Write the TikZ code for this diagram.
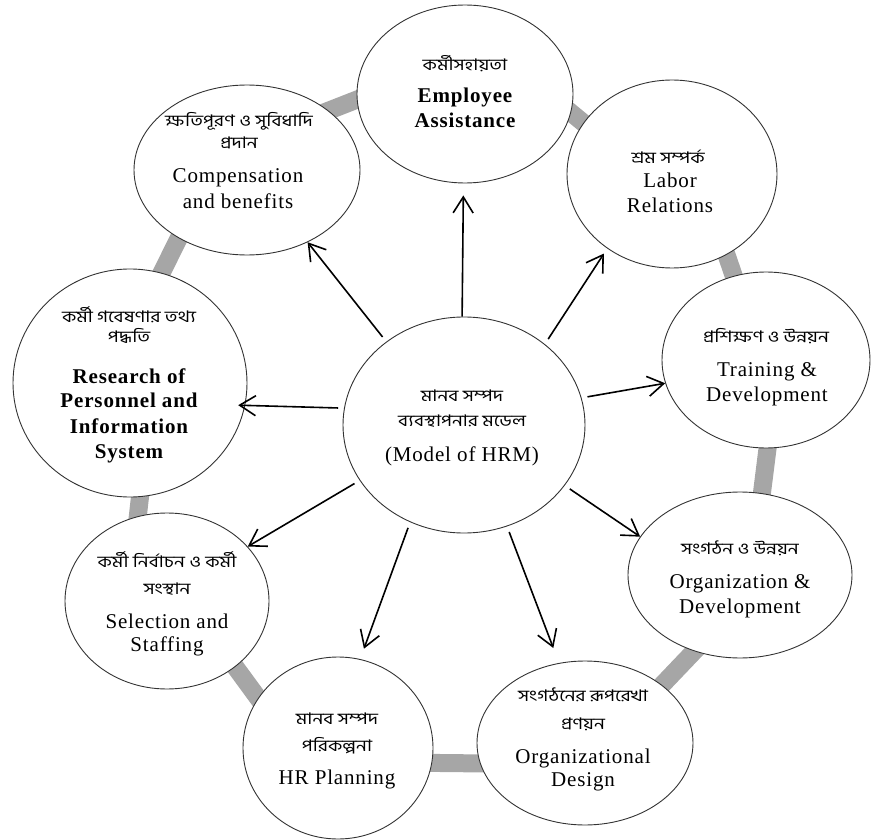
\documentclass[tikz,border=0pt]{standalone}
\usepackage{fontspec}
\setmainfont{Liberation Serif}[LetterSpace=4]
\newfontfamily\bnfont[Script=Bengali,FakeStretch=1.2]{Hind Siliguri}
\usetikzlibrary{shapes.geometric,arrows.meta,backgrounds}
\definecolor{linkgray}{RGB}{166,166,166}
\tikzset{
  ell/.style={ellipse, draw=black!80, line width=0.9pt, fill=white, inner sep=0pt},
  bn/.style={font=\bnfont\fontsize{16}{19}\selectfont, anchor=base, inner sep=0pt, yshift=-4pt},
  en/.style={font=\fontsize{21}{25}\selectfont, anchor=base, inner sep=0pt},
  enb/.style={font=\fontsize{21}{25}\selectfont\bfseries, anchor=base, inner sep=0pt},
  arr/.style={line width=1.6pt, -{Straight Barb[length=16pt,width=20pt]}, shorten <=6pt},
  link/.style={line width=18pt, draw=linkgray, shorten >=-8pt, shorten <=-8pt}
}
\begin{document}
\begin{tikzpicture}[x=1pt,y=-1pt]
\useasboundingbox (0,0) rectangle (871,840);
% ellipses
\node[ell, minimum width=216pt, minimum height=178pt] (emp) at (465,94) {};
\node[ell, minimum width=226pt, minimum height=170pt] (comp) at (247,170) {};
\node[ell, minimum width=210pt, minimum height=188pt] (labor) at (672,174) {};
\node[ell, minimum width=208pt, minimum height=176pt] (train) at (766,360) {};
\node[ell, minimum width=224pt, minimum height=166pt] (orgdev) at (740,575) {};
\node[ell, minimum width=216pt, minimum height=164pt] (orgdes) at (585,743) {};
\node[ell, minimum width=190pt, minimum height=182pt] (hr) at (338,748) {};
\node[ell, minimum width=204pt, minimum height=176pt] (sel) at (167,601) {};
\node[ell, minimum width=234pt, minimum height=228pt] (res) at (130,383) {};
\node[ell, minimum width=242pt, minimum height=216pt] (c) at (464,425) {};
% gray links
\begin{pgfonlayer}{background}
\draw[link] (comp.36) -- (emp.183);
\draw[link] (emp.-10) -- (labor.150);
\draw[link] (labor.-56) -- (train.111);
\draw[link] (train.-89) -- (orgdev.75);
\draw[link] (orgdev.-121) -- (orgdes.37);
\draw[link] (orgdes.191) -- (hr.-9);
\draw[link] (hr.148) -- (sel.-44);
\draw[link] (sel.109) -- (res.-85);
\draw[link] (res.74) -- (comp.225);
\end{pgfonlayer}
% arrows
\draw[arr, shorten <=0pt, shorten >=12pt] (c.91) -- (emp.-91);
\draw[arr] (c.133) -- (comp.-50);
\draw[arr, shorten >=6pt] (c.45) -- (labor.229);
\draw[arr] (c.13) -- (train.193);
\draw[arr] (c.-31) -- (orgdev.159);
\draw[arr, shorten >=16pt] (c.-67) -- (orgdes.108);
\draw[arr, shorten >=11pt] (c.-119) -- (hr.76);
\draw[arr] (c.208) -- (sel.34);
\draw[arr, shorten >=-7pt] (c.172) -- (res.-11);
% texts
\node[bn] (t-emp-1) at (465,67) {কর্মীসহায়তা};
\node[enb] (t-emp-2) at (465,103) {Employee};
\node[enb] (t-emp-3) at (465,128) {Assistance};
\node[bn] (t-comp-1) at (239,123) {ক্ষতিপূরণ ও সুবিধাদি};
\node[bn] (t-comp-2) at (239,145) {প্রদান};
\node[en] (t-comp-3) at (238,183) {Compensation};
\node[en] (t-comp-4) at (238,208) {and benefits};
\node[bn] (t-lab-1) at (668,160) {শ্রম সম্পর্ক};
\node[en] (t-lab-2) at (670,188) {Labor};
\node[en] (t-lab-3) at (670,213) {Relations};
\node[bn] (t-tr-1) at (766,338) {প্রশিক্ষণ ও উন্নয়ন};
\node[en] (t-tr-2) at (767,376) {Training \&};
\node[en] (t-tr-3) at (767,401) {Development};
\node[bn] (t-od-1) at (740,550) {সংগঠন ও উন্নয়ন};
\node[en] (t-od-2) at (740,588) {Organization \&};
\node[en] (t-od-3) at (740,613) {Development};
\node[bn] (t-ds-1) at (583,697) {সংগঠনের রূপরেখা};
\node[bn] (t-ds-2) at (583,725) {প্রণয়ন};
\node[en] (t-ds-3) at (583,763) {Organizational};
\node[en] (t-ds-4) at (583,786) {Design};
\node[bn] (t-hr-1) at (337,720) {মানব সম্পদ};
\node[bn] (t-hr-2) at (337,747) {পরিকল্পনা};
\node[en] (t-hr-3) at (337,784) {HR Planning};
\node[bn] (t-sel-1) at (167,563) {কর্মী নির্বাচন ও কর্মী};
\node[bn] (t-sel-2) at (167,590) {সংস্থান};
\node[en] (t-sel-3) at (167,628) {Selection and};
\node[en] (t-sel-4) at (167,651) {Staffing};
\node[bn] (t-res-1) at (129,318) {কর্মী গবেষণার তথ্য};
\node[bn] (t-res-2) at (129,338) {পদ্ধতি};
\node[enb] (t-res-3) at (129,383) {Research of};
\node[enb] (t-res-4) at (129,407) {Personnel and};
\node[enb] (t-res-5) at (129,433) {Information};
\node[enb] (t-res-6) at (129,458) {System};
\node[bn] (t-c-1) at (462,397) {মানব সম্পদ};
\node[bn] (t-c-2) at (462,422) {ব্যবস্থাপনার মডেল};
\node[en] (t-c-3) at (462,461) {(Model of HRM)};
\end{tikzpicture}
\end{document}
